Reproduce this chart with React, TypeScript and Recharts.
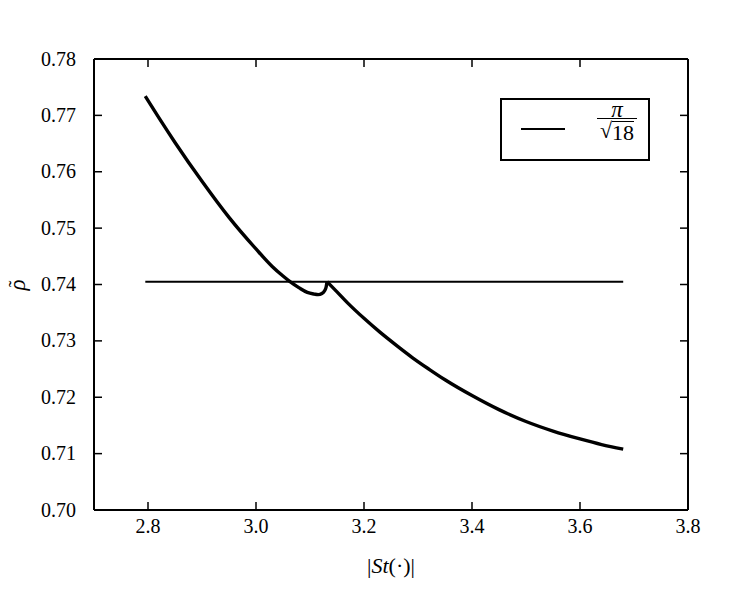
import React from "react";
import { LineChart, Line, XAxis, YAxis, Legend, Label } from "recharts";

const xTicks = [2.8, 3.0, 3.2, 3.4, 3.6, 3.8];
const yTicks = [0.7, 0.71, 0.72, 0.73, 0.74, 0.75, 0.76, 0.77, 0.78];

// curve before the cusp
const curveLeftX = [2.795, 2.82, 2.85, 2.9, 2.95, 3.0, 3.03, 3.05, 3.063, 3.08, 3.095, 3.108, 3.115, 3.122, 3.127, 3.13, 3.1315];
const curveLeftY = [0.7734, 0.7696, 0.7652, 0.7583, 0.7519, 0.7463, 0.7432, 0.7415, 0.7405, 0.7394, 0.7386, 0.7383, 0.7382, 0.7384, 0.7389, 0.7396, 0.7405];
// curve after the cusp
const curveRightX = [3.1315, 3.15, 3.17, 3.2, 3.23, 3.26, 3.29, 3.32, 3.35, 3.4, 3.45, 3.5, 3.55, 3.6, 3.64, 3.68];
const curveRightY = [0.7405, 0.7387, 0.7367, 0.734, 0.7315, 0.7292, 0.727, 0.725, 0.7231, 0.7203, 0.7178, 0.7157, 0.714, 0.7126, 0.7116, 0.7108];
// horizontal reference pi/sqrt(18)
const refX = [2.795, 3.68];
const refY = [0.74048, 0.74048];

const zip = (xs: number[], ys: number[]) => xs.map((x, i) => ({ x, y: ys[i] }));
const leftData = zip(curveLeftX, curveLeftY);
const rightData = zip(curveRightX, curveRightY);
const refData = zip(refX, refY);

const FONT = '"Liberation Serif", "DejaVu Serif", serif';
const TL = 8;
const txt: React.CSSProperties = { fontFamily: FONT };

const BottomTick = (p: any) => (
  <g>
    <line x1={p.x} y1={p.y} x2={p.x} y2={p.y - TL} stroke="#000" strokeWidth={1.5} />
    <text x={p.x} y={p.y + 23} textAnchor="middle" style={txt} fontSize={20} fill="#000">
      {Number(p.payload.value).toFixed(1)}
    </text>
  </g>
);
const TopTick = (p: any) => (
  <line x1={p.x} y1={p.y} x2={p.x} y2={p.y + TL} stroke="#000" strokeWidth={1.5} />
);
const LeftTick = (p: any) => (
  <g>
    <line x1={p.x} y1={p.y} x2={p.x + TL} y2={p.y} stroke="#000" strokeWidth={1.5} />
    <text x={p.x - 18} y={p.y + 6.5} textAnchor="end" style={txt} fontSize={20} fill="#000">
      {Number(p.payload.value).toFixed(2)}
    </text>
  </g>
);
const RightTick = (p: any) => (
  <line x1={p.x} y1={p.y} x2={p.x - TL} y2={p.y} stroke="#000" strokeWidth={1.5} />
);

const LegendBox = () => (
  <div
    style={{
      position: "relative",
      width: 150,
      height: 63,
      boxSizing: "border-box",
      border: "2px solid #000",
      background: "#fff",
      fontFamily: FONT,
      color: "#000",
    }}
  >
    <div style={{ position: "absolute", left: 19, top: 28, width: 44, height: 2, background: "#000" }} />
    <div
      style={{
        position: "absolute",
        left: 94,
        top: 0,
        width: 42,
        display: "flex",
        flexDirection: "column",
        alignItems: "center",
      }}
    >
      <div style={{ fontSize: 23, fontStyle: "italic", lineHeight: "20px", height: 18 }}>π</div>
      <div style={{ width: 40, height: 1, background: "#000" }} />
      <div style={{ fontSize: 22, lineHeight: "23px", display: "flex", alignItems: "flex-start" }}>
        <span>√</span>
        <span style={{ borderTop: "1px solid #000", lineHeight: "22px", marginTop: 2 }}>18</span>
      </div>
    </div>
  </div>
);

export default function App() {
  return (
    <div style={{ position: "absolute", left: 0, top: 0, width: 750, height: 600, background: "#fff", fontFamily: FONT }}>
      <LineChart width={750} height={600} margin={{ top: 58, right: 61, bottom: 89, left: 93 }} style={{ fontFamily: FONT }}>
        <XAxis
          dataKey="x"
          type="number"
          domain={[2.7, 3.8]}
          ticks={xTicks}
          interval={0}
          height={1}
          tickSize={0}
          tickMargin={0}
          tickLine={false}
          axisLine={{ stroke: "#000", strokeWidth: 2 }}
          tick={<BottomTick />}
          allowDataOverflow
        >
          <Label
            content={() => (
              <text x={391} y={573} textAnchor="middle" style={txt} fontSize={22} fill="#000">
                <tspan>|</tspan>
                <tspan fontStyle="italic">St</tspan>
                <tspan>(·)|</tspan>
              </text>
            )}
          />
        </XAxis>
        <XAxis
          xAxisId="top"
          orientation="top"
          dataKey="x"
          type="number"
          domain={[2.7, 3.8]}
          ticks={xTicks}
          interval={0}
          height={1}
          tickSize={0}
          tickMargin={0}
          tickLine={false}
          axisLine={{ stroke: "#000", strokeWidth: 2 }}
          tick={<TopTick />}
          allowDataOverflow
        />
        <YAxis
          type="number"
          domain={[0.7, 0.78]}
          ticks={yTicks}
          interval={0}
          width={1}
          tickSize={0}
          tickMargin={0}
          tickLine={false}
          axisLine={{ stroke: "#000", strokeWidth: 2 }}
          tick={<LeftTick />}
          allowDataOverflow
        >
          <Label
            content={() => (
              <g transform="translate(25,285) rotate(-90)">
                <text x={0} y={0} textAnchor="middle" style={txt} fontSize={23} fontStyle="italic" fill="#000">
                  ρ
                </text>
                <text x={1} y={-2} textAnchor="middle" style={txt} fontSize={20} fill="#000">
                  ˜
                </text>
              </g>
            )}
          />
        </YAxis>
        <YAxis
          yAxisId="right"
          orientation="right"
          type="number"
          domain={[0.7, 0.78]}
          ticks={yTicks}
          interval={0}
          width={1}
          tickSize={0}
          tickMargin={0}
          tickLine={false}
          axisLine={{ stroke: "#000", strokeWidth: 2 }}
          tick={<RightTick />}
          allowDataOverflow
        />
        <Line data={refData} dataKey="y" type="linear" stroke="#000" strokeWidth={2} dot={false} isAnimationActive={false} name="ref" />
        <Line data={leftData} dataKey="y" type="monotone" stroke="#000" strokeWidth={3.4} dot={false} isAnimationActive={false} legendType="none" />
        <Line data={rightData} dataKey="y" type="monotone" stroke="#000" strokeWidth={3.4} dot={false} isAnimationActive={false} legendType="none" />
        <Legend
          layout="vertical"
          align="center"
          verticalAlign="middle"
          content={() => <LegendBox />}
          wrapperStyle={{ position: "absolute", left: 500, top: 98, width: 150, height: 63 }}
        />
      </LineChart>
    </div>
  );
}
